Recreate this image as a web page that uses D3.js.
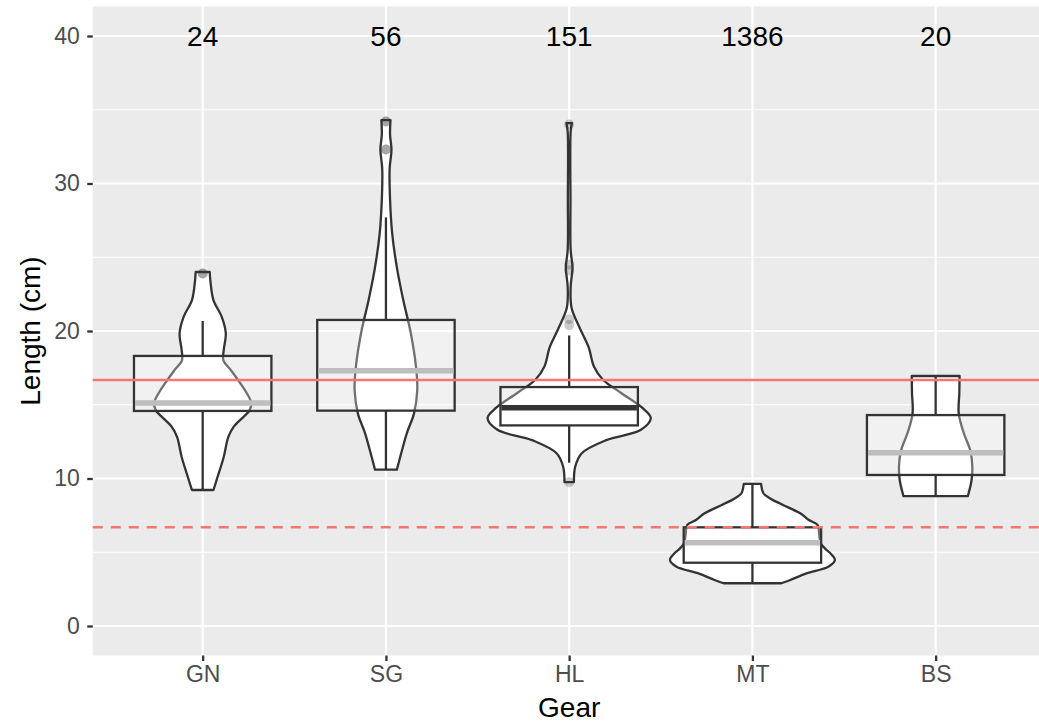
<!DOCTYPE html>
<html>
<head>
<meta charset="utf-8">
<script src="https://cdn.jsdelivr.net/npm/d3@7"></script>
<style>
  html, body { margin: 0; padding: 0; background: #fff; }
  svg { display: block; font-family: "Liberation Sans", Arial, Helvetica, sans-serif; }
</style>
</head>
<body>
<svg id="chart" width="1039" height="724"></svg>
<script>
// Gear types, sample sizes and axis ticks
const gears = ["GN", "SG", "HL", "MT", "BS"];
const counts = [24, 56, 151, 1386, 20];
const yTicks = [0, 10, 20, 30, 40];
const yMinorTicks = [5, 15, 25, 35];

// Reference lengths (cm)
const meanLength = 16.68;
const thresholdLength = 6.7;

// Boxplot statistics per gear (cm)
const whiskerLow = [9.22, 10.6, 11.07, 2.9, 8.8];
const q1 = [14.58, 14.6, 13.6, 4.29, 10.24];
const median = [15.12, 17.3, 14.8, 5.65, 11.75];
const q3 = [18.31, 20.75, 16.2, 6.69, 14.3];
const whiskerHigh = [20.68, 27.7, 19.7, 9.63, 16.95];
const outliers = [
  [23.9, 23.9],
  [32.3, 32.3, 34.2, 34.2],
  [9.75, 20.4, 20.8, 24.1, 24.5, 34.0],
  [],
  []
];

// Violin density profiles: [length, relative half-width]
const violinGN = [[9.22,0.131],[10.1,0.18],[11.46,0.255],[12.8,0.31],[13.5,0.375],[14.2,0.50],[14.6,0.566],[15.1,0.59],[15.8,0.533],[16.47,0.455],[17.36,0.34],[18.03,0.25],[18.7,0.255],[19.86,0.28],[20.97,0.23],[22.1,0.13],[23.2,0.097],[24.0,0.085]];
const violinSG = [[10.6,0.133],[11.9,0.194],[13.1,0.255],[14.4,0.34],[16.0,0.38],[17.6,0.364],[19.9,0.30],[22.1,0.21],[24.3,0.133],[26.6,0.076],[28.9,0.05],[31.0,0.045],[32.3,0.067],[33.3,0.05],[34.3,0.055]];
const violinHL = [[9.75,0.057],[10.8,0.073],[11.7,0.15],[12.6,0.45],[13.3,0.87],[14.1,0.99],[14.8,0.885],[15.8,0.63],[16.7,0.41],[17.6,0.30],[18.9,0.236],[20.3,0.12],[21.6,0.028],[23.0,0.018],[24.3,0.04],[25.5,0.018],[28.9,0.016],[33.5,0.018],[34.1,0.033]];
const violinMT = [[2.9,0.35],[3.12,0.46],[3.57,0.655],[4.02,0.92],[4.47,1.0],[4.9,0.95],[5.15,0.9],[5.6,0.83],[6.2,0.81],[6.85,0.79],[7.2,0.68],[7.64,0.58],[8.3,0.335],[8.7,0.2],[9.0,0.133],[9.63,0.105]];
const violinBS = [[8.8,0.39],[9.9,0.436],[10.8,0.445],[11.9,0.42],[13.1,0.34],[14.4,0.28],[15.8,0.287],[16.95,0.29]];
const violins = [violinGN, violinSG, violinHL, violinMT, violinBS];

// ---- layout ----
const svg = d3.select("#chart");
const panel = { left: 92.75, right: 1045.6, top: 6.5, bottom: 655.5 };
const ink = "#333333";
const lw = 2.3;

const x = d3.scalePoint().domain(gears).range([panel.left, panel.right]).padding(0.6);
const y = d3.scaleLinear().domain([-2, 42]).range([panel.bottom, panel.top]);
const step = x.step();
const violinHalf = 0.45 * step;
const boxHalf = 0.375 * step;

// panel background
svg.append("rect")
  .attr("x", panel.left).attr("y", panel.top)
  .attr("width", panel.right - panel.left).attr("height", panel.bottom - panel.top)
  .attr("fill", "#EBEBEB");

// grid
const grid = svg.append("g");
grid.selectAll(".minor").data(yMinorTicks).join("line")
  .attr("x1", panel.left).attr("x2", panel.right)
  .attr("y1", d => y(d)).attr("y2", d => y(d))
  .attr("stroke", "#fff").attr("stroke-width", 1.1);
grid.selectAll(".majorY").data(yTicks).join("line")
  .attr("x1", panel.left).attr("x2", panel.right)
  .attr("y1", d => y(d)).attr("y2", d => y(d))
  .attr("stroke", "#fff").attr("stroke-width", 2.2);
grid.selectAll(".majorX").data(gears).join("line")
  .attr("x1", d => x(d)).attr("x2", d => x(d))
  .attr("y1", panel.top).attr("y2", panel.bottom)
  .attr("stroke", "#fff").attr("stroke-width", 2.2);

// violins
const plot = svg.append("g");
gears.forEach((g, i) => {
  const cx = x(g);
  const area = d3.area()
    .curve(d3.curveCatmullRom)
    .y(d => y(d[0]))
    .x0(d => cx - d[1] * violinHalf)
    .x1(d => cx + d[1] * violinHalf);
  plot.append("path")
    .attr("d", area(violins[i]))
    .attr("fill", "#fff")
    .attr("stroke", ink)
    .attr("stroke-width", lw)
    .attr("stroke-linejoin", "round");
});

// outlying points
gears.forEach((g, i) => {
  plot.selectAll(null).data(outliers[i]).join("circle")
    .attr("cx", x(g)).attr("cy", d => y(d)).attr("r", 5)
    .attr("fill", ink).attr("fill-opacity", 0.25);
});

// boxplots
const medianColour = { GN: "#BEBEBE", SG: "#BEBEBE", HL: ink, MT: "#BEBEBE", BS: "#BEBEBE" };
gears.forEach((g, i) => {
  const cx = x(g);
  const b = plot.append("g");
  b.append("line").attr("x1", cx).attr("x2", cx)
    .attr("y1", y(q3[i])).attr("y2", y(whiskerHigh[i]))
    .attr("stroke", ink).attr("stroke-width", lw);
  b.append("line").attr("x1", cx).attr("x2", cx)
    .attr("y1", y(q1[i])).attr("y2", y(whiskerLow[i]))
    .attr("stroke", ink).attr("stroke-width", lw);
  b.append("rect")
    .attr("x", cx - boxHalf).attr("width", 2 * boxHalf)
    .attr("y", y(q3[i])).attr("height", y(q1[i]) - y(q3[i]))
    .attr("fill", "#fff").attr("fill-opacity", 0.3)
    .attr("stroke", ink).attr("stroke-width", lw);
  b.append("line")
    .attr("x1", cx - boxHalf + 1).attr("x2", cx + boxHalf - 1)
    .attr("y1", y(median[i])).attr("y2", y(median[i]))
    .attr("stroke", medianColour[g]).attr("stroke-width", 5.5);
});

// sample size labels
svg.append("g").selectAll("text").data(gears).join("text")
  .attr("x", d => x(d)).attr("y", y(40))
  .attr("dy", "0.36em")
  .attr("text-anchor", "middle")
  .attr("font-size", 28)
  .attr("fill", "#000")
  .text((d, i) => counts[i]);

// reference lines
svg.append("line")
  .attr("x1", panel.left).attr("x2", panel.right)
  .attr("y1", y(meanLength)).attr("y2", y(meanLength))
  .attr("stroke", "#F8766D").attr("stroke-width", 2.6);
svg.append("line")
  .attr("x1", panel.left).attr("x2", panel.right)
  .attr("y1", y(thresholdLength)).attr("y2", y(thresholdLength))
  .attr("stroke", "#F8766D").attr("stroke-width", 2.6)
  .attr("stroke-dasharray", "10,8");

// axes
const yAxis = svg.append("g")
  .attr("transform", `translate(${panel.left},0)`)
  .call(d3.axisLeft(y).tickValues(yTicks).tickSize(5.5).tickPadding(7.5));
const xAxis = svg.append("g")
  .attr("transform", `translate(0,${panel.bottom})`)
  .call(d3.axisBottom(x).tickSize(5.5).tickPadding(5));
[yAxis, xAxis].forEach(a => {
  a.select(".domain").remove();
  a.selectAll(".tick line").attr("stroke", ink).attr("stroke-width", lw);
  a.selectAll(".tick text")
    .attr("fill", "#4D4D4D")
    .attr("font-size", 23)
    .attr("font-family", "Liberation Sans, Arial, sans-serif");
});

// axis titles
svg.append("text")
  .attr("x", (panel.left + panel.right) / 2).attr("y", 717)
  .attr("text-anchor", "middle")
  .attr("font-size", 28).attr("fill", "#000")
  .text("Gear");
svg.append("text")
  .attr("transform", `translate(40,${(panel.top + panel.bottom) / 2}) rotate(-90)`)
  .attr("text-anchor", "middle")
  .attr("font-size", 28).attr("fill", "#000")
  .text("Length (cm)");
</script>
</body>
</html>
